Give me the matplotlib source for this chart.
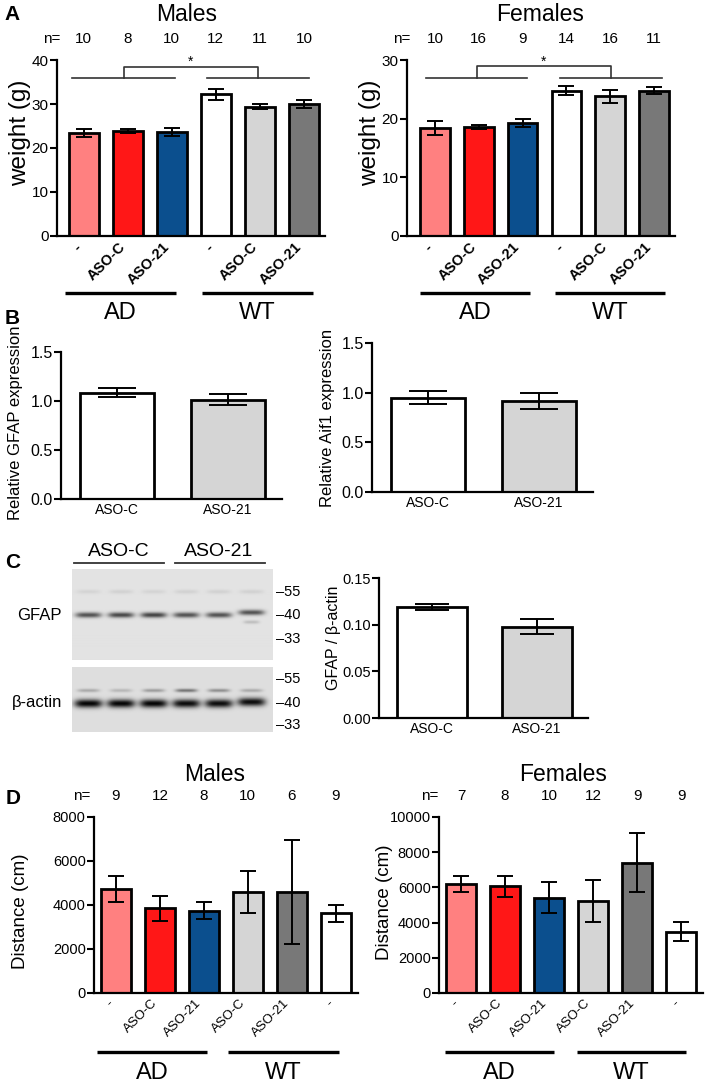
import numpy as np
import matplotlib
matplotlib.use("Agg")
import matplotlib.pyplot as plt
from matplotlib.transforms import blended_transform_factory

plt.rcParams['font.family'] = ['Liberation Sans', 'DejaVu Sans']

# ---- data ----
groups_a = ["-", "ASO-C", "ASO-21", "-", "ASO-C", "ASO-21"]
colors_a = ["#FF8080", "#FF1717", "#0B4F8E", "#FFFFFF", "#D5D5D5", "#787878"]

males_weight = [23.5, 23.8, 23.6, 32.2, 29.4, 30.1]
males_weight_sem = [0.9, 0.45, 0.9, 1.25, 0.6, 0.9]
males_weight_n = [10, 8, 10, 12, 11, 10]

females_weight = [18.4, 18.6, 19.3, 24.8, 23.8, 24.8]
females_weight_sem = [1.15, 0.4, 0.65, 0.8, 1.05, 0.55]
females_weight_n = [10, 16, 9, 14, 16, 11]

b_labels = ["ASO-C", "ASO-21"]
b_colors = ["#FFFFFF", "#D5D5D5"]
gfap_expr = [1.085, 1.015]
gfap_expr_sem = [0.048, 0.055]
aif1_expr = [0.948, 0.918]
aif1_expr_sem = [0.066, 0.078]

gfap_actin = [0.119, 0.098]
gfap_actin_sem = [0.0033, 0.0082]

# western blot band strengths per lane
gfap_band = [0.58, 0.62, 0.64, 0.58, 0.58, 0.58]
gfap_upper = [0.06, 0.07, 0.06, 0.07, 0.07, 0.07]
gfap_lower = [0.0, 0.0, 0.0, 0.0, 0.0, 0.15]
gfap_shift = [0, 0, 0, 0, 0, 2.5]
actin_band = [0.85, 0.85, 0.85, 0.82, 0.82, 0.82]
actin_upper = [0.2, 0.15, 0.25, 0.4, 0.3, 0.2]
actin_shift = [0, 0, 0, 0, 0, 1.5]
markers = ["55", "40", "33"]

groups_d = ["-", "ASO-C", "ASO-21", "ASO-C", "ASO-21", "-"]
colors_d = ["#FF8080", "#FF1717", "#0B4F8E", "#D5D5D5", "#787878", "#FFFFFF"]

males_dist = [4730, 3850, 3750, 4600, 4580, 3630]
males_dist_sem = [580, 580, 400, 945, 2360, 380]
males_dist_n = [9, 12, 8, 10, 6, 9]

females_dist = [6210, 6060, 5400, 5210, 7390, 3470]
females_dist_sem = [445, 605, 880, 1185, 1675, 540]
females_dist_n = [7, 8, 10, 12, 9, 9]

W, H = 709, 1084
fig = plt.figure(figsize=(W / 100, H / 100), dpi=100)


def px_axes(l, t, r, b):
    return fig.add_axes([l / W, 1 - b / H, (r - l) / W, (b - t) / H])


def fig_text(x, y, s, **kw):
    fig.text(x / W, 1 - y / H, s, **kw)


def fig_line(x0, x1, y, lw=1.3, color="#333333"):
    fig.add_artist(plt.Line2D([x0 / W, x1 / W], [1 - y / H, 1 - y / H],
                              color=color, lw=lw))


def style(ax, labelsize):
    for s in ["top", "right"]:
        ax.spines[s].set_visible(False)
    for s in ["left", "bottom"]:
        ax.spines[s].set_linewidth(1.6)
    ax.tick_params(axis="y", length=5, width=1.5, labelsize=labelsize, pad=1)
    ax.tick_params(axis="x", length=0)


def bars(ax, vals, sem, colors, width, capsize, lw=2.0):
    x = np.arange(len(vals))
    ax.bar(x, vals, width=width, color=colors, edgecolor="black", linewidth=lw, zorder=2)
    ax.errorbar(x, vals, yerr=sem, fmt="none", ecolor="black", elinewidth=1.4,
                capsize=capsize, capthick=1.4, zorder=3)
    return x


def six_bar_panel(ax, vals, sem, n, colors, labels, ymax, step, ylabel, title,
                  xlim, title_x, nlab_x, ylab_pos, bold, ad_span, wt_span,
                  ticksize, rot_size, line_y, text_y, n_y, title_y, ylab_size):
    x = bars(ax, vals, sem, colors, 0.68, 6)
    style(ax, ticksize)
    ax.set_xlim(*xlim)
    ax.set_ylim(0, ymax)
    ax.set_yticks(np.arange(0, ymax + 1, step))
    ax.set_xticks(x)
    ax.set_xticklabels(labels, rotation=45, ha="right", va="top",
                       fontsize=rot_size, fontweight="bold" if bold else "normal")
    ax.tick_params(axis="x", pad=3)
    ax.set_ylabel(ylabel, fontsize=ylab_size, va="center")
    ax.yaxis.set_label_coords(*ylab_pos)
    tr = blended_transform_factory(ax.transData, ax.transAxes)
    for xi, ni in zip(x, n):
        ax.text(xi, n_y, str(ni), transform=tr, ha="center", va="center", fontsize=11)
    ax.text(nlab_x, n_y, "n=", transform=tr, ha="center", va="center", fontsize=11)
    ax.text(title_x, title_y, title, transform=tr, ha="center", va="center", fontsize=16.5)
    for (a, b), lab in zip([ad_span, wt_span], ["AD", "WT"]):
        ax.plot([a, b], [line_y, line_y], color="black", lw=2.4, transform=tr,
                clip_on=False, solid_capstyle="butt")
        ax.text((a + b) / 2, text_y, lab, transform=tr, ha="center", va="center",
                fontsize=17)
    return x


def bracket(ax, x_ad, x_wt, y_low, y_high, x_l, x_r, star_x, star_y):
    kw = dict(color="#333333", lw=1.2, clip_on=False)
    ax.plot(x_ad, [y_low, y_low], **kw)
    ax.plot(x_wt, [y_low, y_low], **kw)
    ax.plot([x_l, x_l, x_r, x_r], [y_low, y_high, y_high, y_low], **kw)
    ax.text(star_x, star_y, "*", ha="center", va="center", fontsize=10, clip_on=False)


# ---------------- A ----------------
ax = px_axes(57, 60, 325, 236)
six_bar_panel(ax, males_weight, males_weight_sem, males_weight_n, colors_a, groups_a,
              40, 10, "weight (g)", "Males", (-0.61, 5.48), 2.34, -0.73,
              (-0.138, 0.585), True, (-0.43, 2.09), (2.68, 5.2),
              11, 10.5, -0.324, -0.437, 1.12, 1.26, 17.5)
bracket(ax, [-0.26, 2.07], [2.79, 5.12], 35.8, 38.5, 0.91, 3.95, 2.43, 39.6)

ax = px_axes(407, 60, 675, 236)
six_bar_panel(ax, females_weight, females_weight_sem, females_weight_n, colors_a, groups_a,
              30, 10, "weight (g)", "Females", (-0.64, 5.48), 2.4, -0.75,
              (-0.138, 0.585), True, (-0.34, 2.17), (2.74, 5.25),
              11, 10.5, -0.324, -0.437, 1.12, 1.26, 17.5)
bracket(ax, [-0.2, 2.09], [2.85, 5.18], 26.9, 28.9, 0.95, 4.02, 2.47, 29.7)

# ---------------- B ----------------
for (l, t, r, b), vals, sem, ylab, ypos in [
        ((61, 352, 282, 499), gfap_expr, gfap_expr_sem, "Relative GFAP expression", (-0.204, 0.52)),
        ((372, 343, 593, 492), aif1_expr, aif1_expr_sem, "Relative Aif1 expression", (-0.2, 0.5))]:
    ax = px_axes(l, t, r, b)
    x = bars(ax, vals, sem, b_colors, 0.67, 13.5)
    style(ax, 11.5)
    ax.set_xlim(-0.505, 1.49)
    ax.set_ylim(0, 1.5)
    ax.set_yticks([0, 0.5, 1.0, 1.5])
    ax.set_yticklabels(["0.0", "0.5", "1.0", "1.5"])
    ax.set_xticks(x)
    ax.set_xticklabels(b_labels, fontsize=10)
    ax.tick_params(axis="x", pad=3)
    ax.set_ylabel(ylab, fontsize=12, va="center")
    ax.yaxis.set_label_coords(*ypos)

# ---------------- C ----------------
def blot(l, t, r, b, bg, rows):
    ax = px_axes(l, t, r, b)
    w, h = r - l, b - t
    yy, xx = np.mgrid[0:h, 0:w]
    img = np.full((h, w), bg)
    lane_x = 16 + 32.6 * np.arange(6)
    for cy, sy, hw, strengths, shifts in rows:
        for cx, a, dy in zip(lane_x, strengths, shifts):
            img -= a * np.exp(-((xx - cx) / hw) ** 4) * np.exp(-((yy - cy + dy) / sy) ** 2)
    ax.imshow(np.clip(img, 0, 1), cmap="gray", vmin=0, vmax=1,
              extent=(0, w, h, 0), aspect="auto", interpolation="bilinear")
    ax.set_axis_off()
    return ax


no_shift = [0] * 6
blot(72, 569, 273, 660, 0.89, [
    (46, 2.6, 13, gfap_band, gfap_shift),
    (23, 2.0, 12, gfap_upper, no_shift),
    (53, 1.6, 8, gfap_lower, no_shift)])
blot(72, 667, 273, 732, 0.87, [
    (36, 4.2, 14, actin_band, actin_shift),
    (23, 1.8, 11, actin_upper, no_shift)])

for y, m in zip([592, 615, 639], markers):
    fig_text(276, y, "\u2013" + m, fontsize=10.5, ha="left", va="center")
for y, m in zip([679, 703, 725], markers):
    fig_text(276, y, "\u2013" + m, fontsize=10.5, ha="left", va="center")
fig_text(62, 615, "GFAP", fontsize=12, ha="right", va="center")
fig_text(62, 703, "\u03b2-actin", fontsize=12, ha="right", va="center")
fig_text(119, 552, "ASO-C", fontsize=14, ha="center", va="center")
fig_text(219, 552, "ASO-21", fontsize=14, ha="center", va="center")
fig_line(74, 164, 563)
fig_line(175, 265, 563)

ax = px_axes(379, 578, 588, 718)
x = bars(ax, gfap_actin, gfap_actin_sem, b_colors, 0.667, 12.5)
style(ax, 10.5)
ax.set_xlim(-0.505, 1.486)
ax.set_ylim(0, 0.15)
ax.set_yticks([0, 0.05, 0.10, 0.15])
ax.set_yticklabels(["0.00", "0.05", "0.10", "0.15"])
ax.set_xticks(x)
ax.set_xticklabels(b_labels, fontsize=10)
ax.tick_params(axis="x", pad=3)
ax.set_ylabel("GFAP / \u03b2-actin", fontsize=11.5, va="center")
ax.yaxis.set_label_coords(-0.22, 0.57)

# ---------------- D ----------------
ax = px_axes(94, 817, 358, 993)
six_bar_panel(ax, males_dist, males_dist_sem, males_dist_n, colors_d, groups_d,
              8000, 2000, "Distance (cm)", "Males", (-0.5, 5.51), 2.25, -0.77,
              (-0.277, 0.466), False, (-0.43, 2.07), (2.55, 5.08),
              10.5, 9.5, -0.335, -0.455, 1.119, 1.24, 13.5)

ax = px_axes(439, 817, 703, 993)
six_bar_panel(ax, females_dist, females_dist_sem, females_dist_n, colors_d, groups_d,
              10000, 2000, "Distance (cm)", "Females", (-0.5, 5.49), 2.31, -0.7,
              (-0.208, 0.517), False, (-0.36, 2.11), (2.63, 5.1),
              10.5, 9.5, -0.335, -0.455, 1.119, 1.24, 13.5)

# panel letters
for s, (px, py) in zip("ABCD", [(12, 15), (12, 318), (13, 562), (13, 798)]):
    fig_text(px, py, s, fontsize=15, fontweight="bold", ha="center", va="center")

fig.savefig("out.png", dpi=100, facecolor="white")
